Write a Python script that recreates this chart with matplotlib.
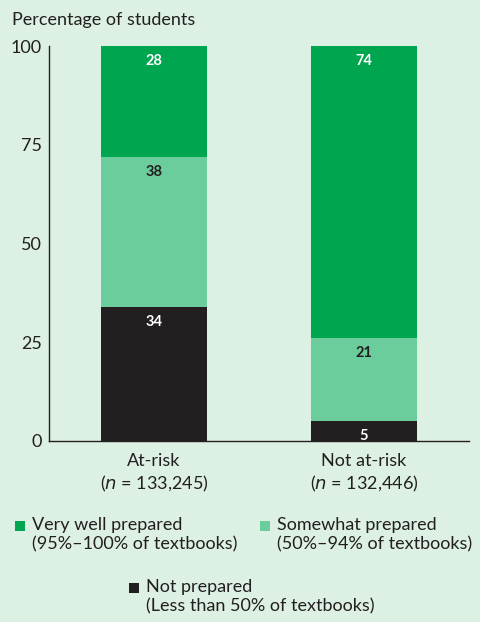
import numpy as np
import matplotlib.pyplot as plt
from matplotlib.patches import Rectangle

plt.rcParams['font.family'] = ['Lato', 'DejaVu Sans']

groups = ["At-risk", "Not at-risk"]
group_n = ["133,245", "132,446"]
not_prepared = [34, 5]
somewhat = [38, 21]
very_well = [28, 74]

bg = "#dcf0e3"
c_very = "#00a64f"
c_some = "#6acd9b"
c_not = "#231f20"

fig = plt.figure(figsize=(4.8, 6.22), dpi=100, facecolor=bg)
ax = fig.add_axes([0.102, 0.291, 0.875, 0.635])
ax.set_facecolor(bg)

x = np.arange(len(groups))
w = 0.505
ax.bar(x, not_prepared, w, color=c_not)
ax.bar(x, somewhat, w, bottom=not_prepared, color=c_some)
bottom3 = np.array(not_prepared) + np.array(somewhat)
ax.bar(x, very_well, w, bottom=bottom3, color=c_very)

# value labels near the top of each segment
tops_not = np.array(not_prepared)
tops_some = tops_not + np.array(somewhat)
tops_very = tops_some + np.array(very_well)
for i in range(len(groups)):
    ax.text(x[i], tops_not[i] - 3.8, str(not_prepared[i]), ha="center", va="center",
            color="white", fontsize=10.5, fontweight="bold")
    ax.text(x[i], tops_some[i] - 3.8, str(somewhat[i]), ha="center", va="center",
            color=c_not, fontsize=10.5, fontweight="bold")
    ax.text(x[i], tops_very[i] - 3.8, str(very_well[i]), ha="center", va="center",
            color="white", fontsize=10.5, fontweight="bold")

ax.set_xlim(-0.5, 1.5)
ax.set_ylim(0, 100)
ax.set_yticks([0, 25, 50, 75, 100])
ax.set_xticks(x)
ax.set_xticklabels([f"{g}\n($n$ = {n})" for g, n in zip(groups, group_n)],
                   fontsize=13, color="#231f20", linespacing=1.25)
ax.tick_params(axis="y", length=0, labelsize=13, labelcolor="#231f20", pad=5)
ax.tick_params(axis="x", length=0, pad=9)
for s in ["top", "right"]:
    ax.spines[s].set_visible(False)
for s in ["left", "bottom"]:
    ax.spines[s].set_color("#231f20")
    ax.spines[s].set_linewidth(1.0)

fig.text(12 / 480, 1 - 20 / 622, "Percentage of students", fontsize=13,
         color="#231f20", ha="left", va="center")

# legend
legend_items = [
    (c_very, "Very well prepared\n(95%\u2013100% of textbooks)", 20, 526),
    (c_some, "Somewhat prepared\n(50%\u201394% of textbooks)", 265, 526),
    (c_not, "Not prepared\n(Less than 50% of textbooks)", 134, 588),
]
for col, label, px, py in legend_items:
    sz = 10
    fig.patches.append(Rectangle((px / 480 - sz / 2 / 480, 1 - py / 622 - sz / 2 / 622),
                                 sz / 480, sz / 622, transform=fig.transFigure,
                                 facecolor=col, edgecolor="none"))
    fig.text((px + 12) / 480, 1 - (py - 9) / 622, label, fontsize=13, color="#231f20",
             ha="left", va="top", linespacing=1.26)

fig.savefig("out.png", dpi=100, facecolor=bg)
